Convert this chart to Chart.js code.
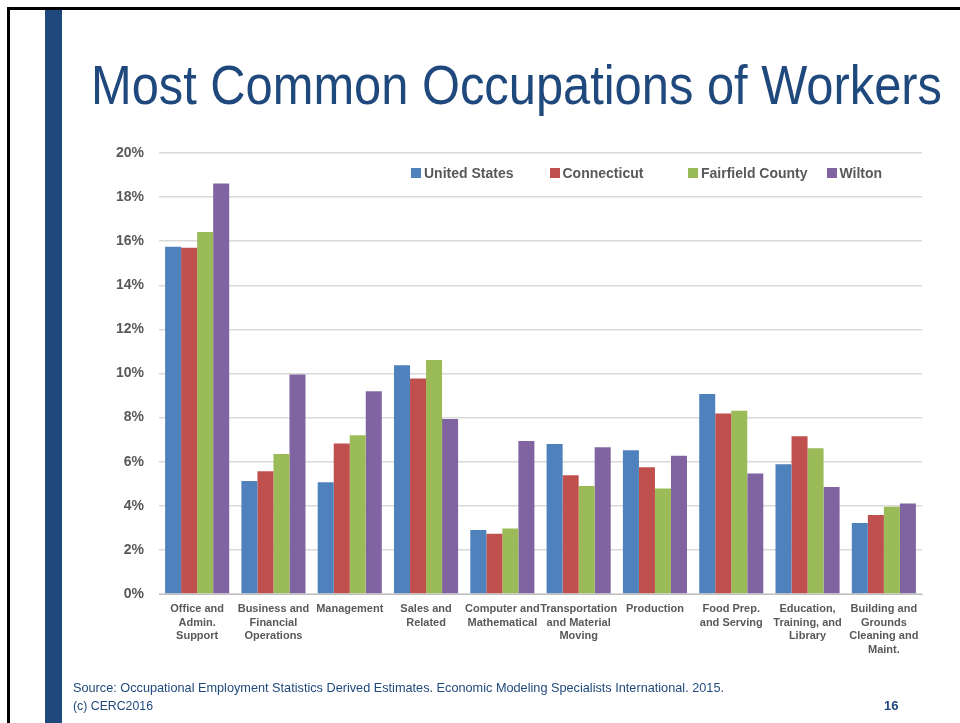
<!DOCTYPE html>
<html>
<head>
<meta charset="utf-8">
<script src="https://cdn.jsdelivr.net/npm/chart.js@4.4.1/dist/chart.umd.min.js"></script>
<style>
    html, body { margin: 0; padding: 0; background: #fff; }
    #slide { position: relative; width: 960px; height: 723px; overflow: hidden; }
    .frame-top { position: absolute; left: 7px; top: 7px; width: 953px; height: 3px; background: #000; }
    .frame-left { position: absolute; left: 7px; top: 7px; width: 3px; height: 716px; background: #000; }
    .side-bar { position: absolute; left: 45px; top: 10px; width: 17px; height: 713px; background: #1f497d; }
    h1 {
        position: absolute; left: 91px; top: 53px; margin: 0;
        font-family: "Liberation Sans Narrow", "Arial Narrow", "Liberation Sans", sans-serif;
        font-weight: normal; font-size: 56px; line-height: 64px; color: #1f497d;
        white-space: nowrap; transform-origin: 0 0;
    }
    #chartBox { position: absolute; left: 0; top: 0; width: 960px; height: 723px; }
    #legend { position: absolute; top: 164px; left: 0; width: 960px; height: 20px; }
    .legend-item {
        position: absolute; top: 0; white-space: nowrap;
        font-family: "Liberation Sans", Arial, sans-serif; font-weight: bold;
        font-size: 14px; color: #595959; line-height: 18px;
    }
    .legend-item span.box { display: inline-block; width: 10px; height: 10px; margin-right: 3px; vertical-align: 0px; }
    .footer {
        position: absolute; left: 73px;
        font-family: "Liberation Sans Narrow", "Arial Narrow", "Liberation Sans", sans-serif;
        font-size: 13px; color: #1f497d; white-space: nowrap; transform-origin: 0 0;
    }
    .page-no {
        position: absolute; left: 884px; top: 698px;
        font-family: "Liberation Sans", Arial, sans-serif; font-weight: bold;
        font-size: 13px; color: #1f497d;
    }
</style>
</head>
<body>
<div id="slide">
    <div class="frame-top"></div>
    <div class="frame-left"></div>
    <div class="side-bar"></div>
    <h1 id="title" data-width="851">Most Common Occupations of Workers</h1>
    <div id="chartBox"><canvas id="occChart" width="960" height="723"></canvas></div>
    <div id="legend"></div>
    <div class="footer" id="source" data-width="651" style="top: 680px;">Source: Occupational Employment Statistics Derived Estimates. Economic Modeling Specialists International. 2015.</div>
    <div class="footer" id="copy" data-width="80" style="top: 698px;">(c) CERC2016</div>
    <div class="page-no">16</div>
</div>

<script>
// Occupation groups (multi-line tick labels)
const occupations = [
    ['Office and', 'Admin.', 'Support'],
    ['Business and', 'Financial', 'Operations'],
    ['Management'],
    ['Sales and', 'Related'],
    ['Computer and', 'Mathematical'],
    ['Transportation', 'and Material', 'Moving'],
    ['Production'],
    ['Food Prep.', 'and Serving'],
    ['Education,', 'Training, and', 'Library'],
    ['Building and', 'Grounds', 'Cleaning and', 'Maint.']
];

// Share of workers, in percent
const unitedStates    = [15.75, 5.12, 5.07, 10.37, 2.90, 6.80, 6.52, 9.07, 5.88, 3.22];
const connecticut     = [15.70, 5.57, 6.83, 9.77, 2.73, 5.38, 5.75, 8.19, 7.15, 3.58];
const fairfieldCounty = [16.42, 6.35, 7.20, 10.61, 2.97, 4.90, 4.79, 8.31, 6.61, 3.96];
const wilton          = [18.62, 9.95, 9.20, 7.94, 6.94, 6.65, 6.27, 5.47, 4.85, 4.10];

const seriesNames  = ['United States', 'Connecticut', 'Fairfield County', 'Wilton'];
const seriesColors = ['#4f81bd', '#c0504d', '#9bbb59', '#8064a2'];

const yMax = 20;
const yStep = 2;

// No narrow font installed, so squeeze the slide texts to their widths
const squeeze = (el) => {
    const target = parseFloat(el.dataset.width);
    const w = el.getBoundingClientRect().width;
    if (w > target) el.style.transform = `scaleX(${target / w})`;
};
['title', 'source', 'copy'].forEach(id => squeeze(document.getElementById(id)));

const seriesValues = [unitedStates, connecticut, fairfieldCounty, wilton];

const datasets = seriesNames.map((name, i) => ({
    label: name,
    data: seriesValues[i],
    backgroundColor: seriesColors[i],
    borderWidth: 0,
    categoryPercentage: 0.84,
    barPercentage: 1.0
}));

const ctx = document.getElementById('occChart').getContext('2d');
const chart = new Chart(ctx, {
    type: 'bar',
    data: { labels: occupations, datasets },
    options: {
        responsive: false,
        animation: false,
        layout: { padding: { left: 99, right: 38, top: 153, bottom: 59 } },
        plugins: {
            legend: { display: false },
            tooltip: { enabled: false }
        },
        scales: {
            x: {
                grid: { display: false, drawTicks: false },
                border: { display: true, color: '#bfbfbf', width: 1 },
                ticks: {
                    autoSkip: false, maxRotation: 0, minRotation: 0,
                    padding: 8,
                    color: '#595959',
                    font: { family: 'Liberation Sans, Arial, sans-serif', size: 11, weight: 'bold', lineHeight: 1.25 }
                },
                afterFit: (scale) => { scale.height = 70; }
            },
            y: {
                min: 0, max: yMax,
                grid: { color: '#d9d9d9', lineWidth: 1.5, drawTicks: false },
                border: { display: false },
                ticks: {
                    stepSize: yStep,
                    padding: 15,
                    color: '#595959',
                    font: { family: 'Liberation Sans, Arial, sans-serif', size: 14, weight: 'bold' },
                    callback: (v) => v + '%'
                },
                afterFit: (scale) => { scale.width = 60; }
            }
        }
    }
});

// Legend built from the chart's datasets, fixed-width slots
const legendDiv = document.getElementById('legend');
const legendStart = 411;
const legendSlot = 138.5;
legendDiv.innerHTML = chart.data.datasets.map((ds, i) => `
    <div class="legend-item" style="left:${legendStart + i * legendSlot}px">
        <span class="box" style="background:${ds.backgroundColor}"></span>${ds.label}
    </div>
`).join('');
</script>
</body>
</html>
